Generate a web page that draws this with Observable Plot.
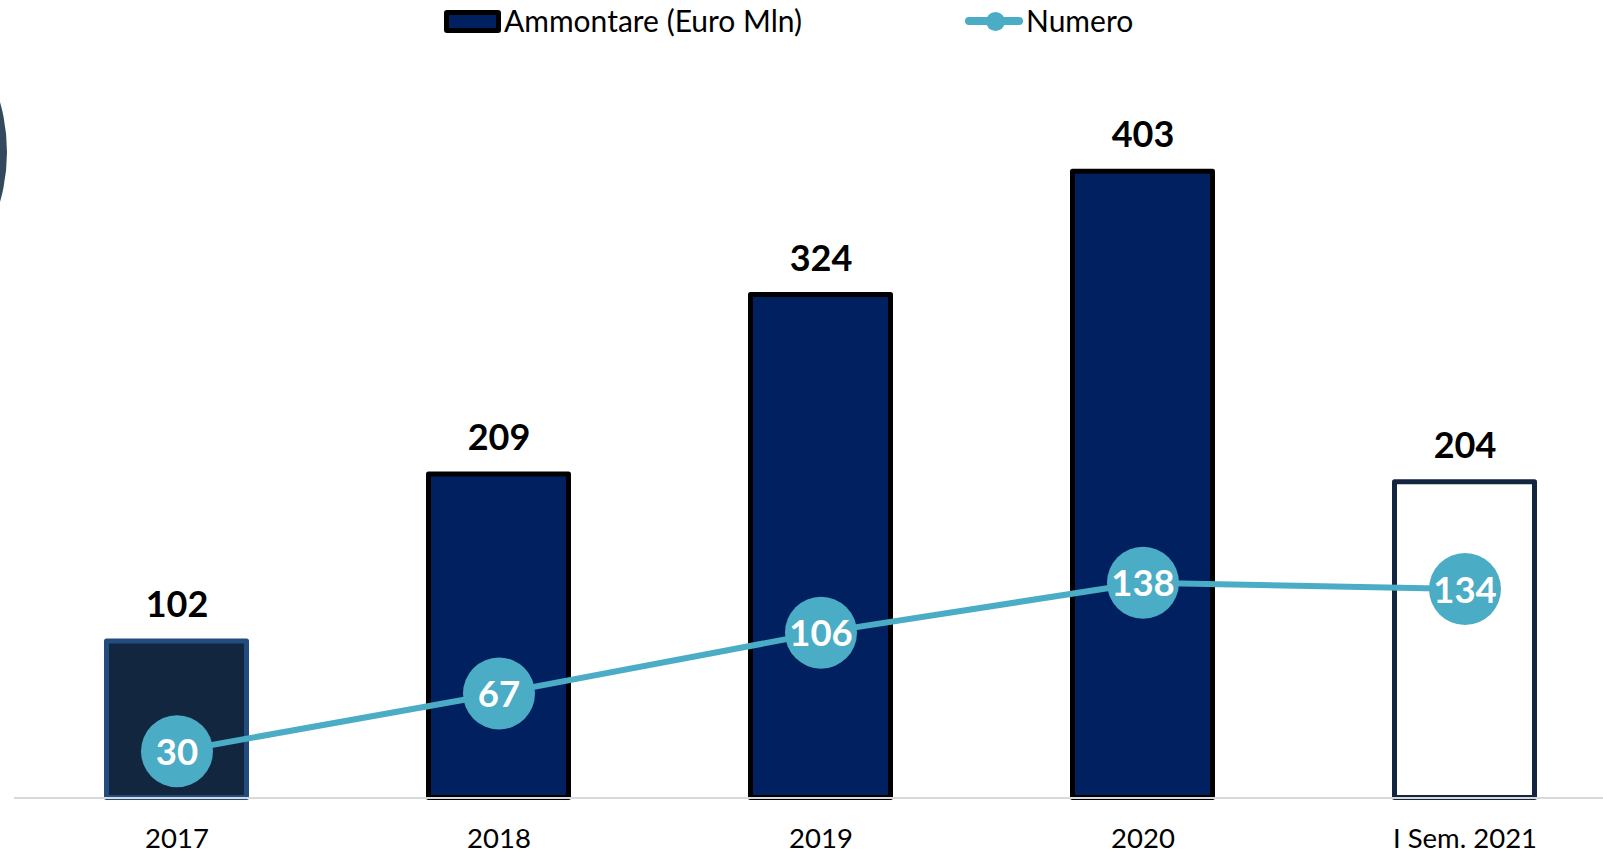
<!DOCTYPE html>
<html>
<head>
<meta charset="utf-8">
<script src="https://cdn.jsdelivr.net/npm/d3@7"></script>
<script src="https://cdn.jsdelivr.net/npm/@observablehq/plot@0.6"></script>
<style>
  html, body { margin: 0; padding: 0; background: #fff; overflow: hidden; }
  body { position: relative; width: 1603px; height: 854px; font-family: Lato, sans-serif; }
  #deco { position: absolute; left: -357px; top: -30px; width: 364px; height: 364px; border-radius: 50%; background: #34495E; }
  #legend { position: relative; height: 42px; width: 1603px; }
  .lg { position: absolute; }
  .lgtext { position: absolute; top: -1px; line-height: 42px; font-size: 30px; color: #000; white-space: nowrap; }
</style>
</head>
<body>
<div id="deco"></div>
<div id="legend">
  <div class="lg" style="left:444px; top:10px; width:57px; height:23px; box-sizing:border-box; border:5px solid #000; border-radius:3px; background:#002060;"></div>
  <div class="lgtext" style="left:504px;">Ammontare (Euro Mln)</div>
  <div class="lg" style="left:965px; top:17px; width:58px; height:8px; border-radius:4px; background:#4BACC6;"></div>
  <div class="lg" style="left:986px; top:11.5px; width:19px; height:19px; border-radius:50%; background:#4BACC6;"></div>
  <div class="lgtext" style="left:1026px;">Numero</div>
</div>
<div id="chart"></div>
<script>
const years = ["2017", "2018", "2019", "2020", "I Sem. 2021"];
const ammontare = [102, 209, 324, 403, 204];
const numero = [30, 67, 106, 138, 134];

const data = years.map((year, i) => ({year, amount: ammontare[i], numero: numero[i], i}));

const fillOf = d => d.i === 0 ? "#13263F" : d.i === 4 ? "#FFFFFF" : "#002060";
const strokeOf = d => d.i === 0 ? "#234C7E" : d.i === 4 ? "#14263F" : "#000000";

const chart = Plot.plot({
  width: 1603,
  height: 812,
  marginLeft: 14,
  marginRight: 0,
  marginTop: 53.5,
  marginBottom: 56.5,
  style: {fontFamily: "Lato, sans-serif", background: "white", color: "#000", overflow: "visible"},
  x: {type: "band", domain: years, paddingInner: 0.5507, paddingOuter: 0.237, align: 0.578, axis: null, label: null},
  y: {domain: [0, 450], axis: null},
  marks: [
    Plot.barY(data, {x: "year", y: "amount", fill: fillOf, stroke: strokeOf, strokeWidth: 5,
      strokeLinejoin: "round", insetLeft: 2.5, insetRight: 2.5, insetTop: 2.5}),
    Plot.ruleY([0], {stroke: "#D9D9D9", strokeWidth: 2}),
    Plot.axisX({tickSize: 0, tickPadding: 30, fontSize: 27.5, fill: "#000", label: null}),
    Plot.text(data, {x: "year", y: "amount", text: d => String(d.amount), lineAnchor: "bottom",
      dy: -22, fontSize: 36, fontWeight: "bold", fill: "#000"}),
    Plot.line(data, {x: "year", y: "numero", stroke: "#4BACC6", strokeWidth: 6}),
    Plot.dot(data, {x: "year", y: "numero", r: 36, fill: "#4BACC6", stroke: "none"}),
    Plot.text(data, {x: "year", y: "numero", text: d => String(d.numero), dy: 2,
      fontSize: 36.5, fontWeight: "bold", fill: "#FFFFFF"})
  ]
});
document.getElementById("chart").appendChild(chart);
</script>
</body>
</html>
